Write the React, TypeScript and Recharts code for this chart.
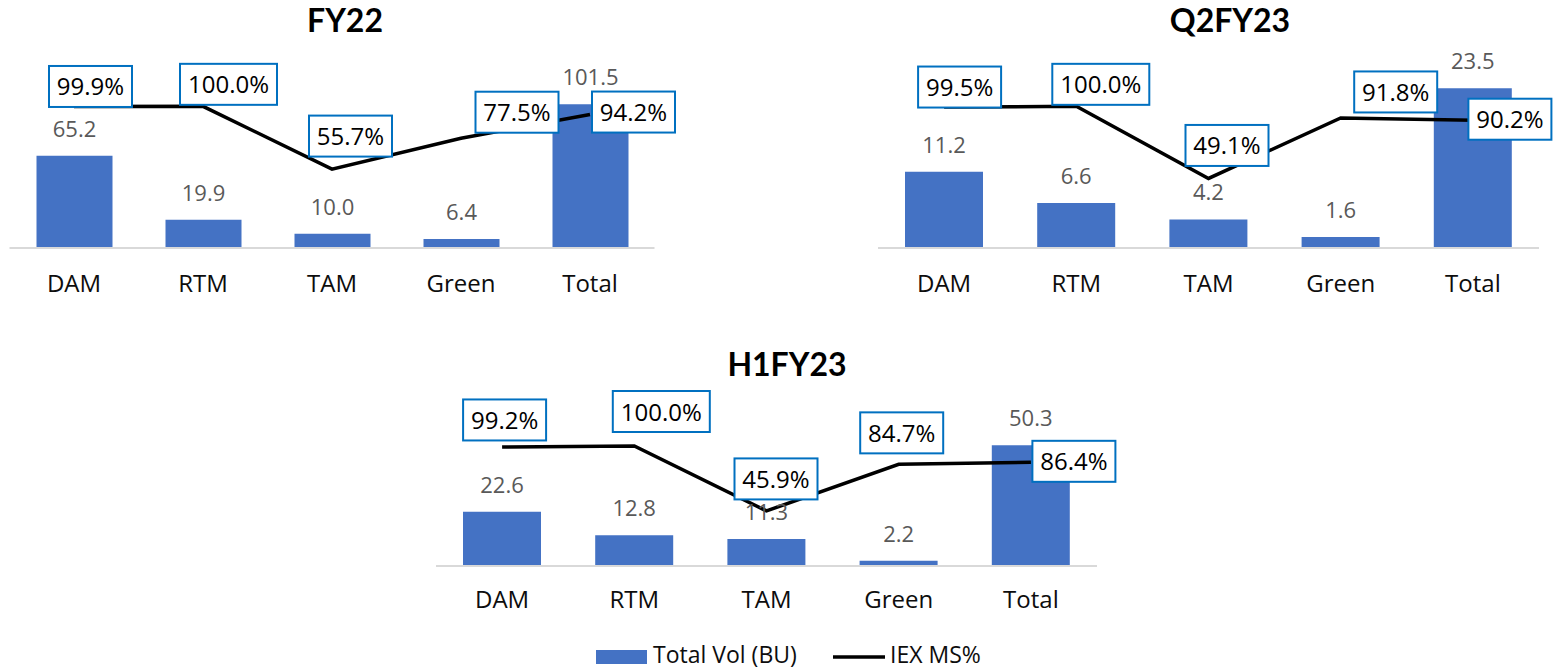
import React from 'react';
import { ComposedChart, Bar, Line, XAxis, YAxis, LabelList } from 'recharts';

const categories = ['DAM', 'RTM', 'TAM', 'Green', 'Total'];

const fy22Vol = [65.2, 19.9, 10.0, 6.4, 101.5];
const fy22Share = [99.9, 100.0, 55.7, 77.5, 94.2];

const q2fy23Vol = [11.2, 6.6, 4.2, 1.6, 23.5];
const q2fy23Share = [99.5, 100.0, 49.1, 91.8, 90.2];

const h1fy23Vol = [22.6, 12.8, 11.3, 2.2, 50.3];
const h1fy23Share = [99.2, 100.0, 45.9, 84.7, 86.4];

const legendItems = ['Total Vol (BU)', 'IEX MS%'];

// where each % box sits relative to its point (layout only)
const fy22BoxShift = [[16.5, -20], [25.5, -22], [18.5, -33], [56, -26], [43.5, -2.5]];
const q2BoxShift = [[15.5, -20], [24.5, -22], [18.5, -33], [55, -26], [37, -1]];
const h1BoxShift = [[2.5, -27], [27, -34.5], [9.5, -32], [3, -31.5], [43, -1]];

const BAR = '#4472C4';

const makeBoxLabel = (shifts: number[][]) => (props: any) => {
  const vb = props.viewBox || {};
  const px = (vb.x ?? props.x) + (vb.width || 0) / 2;
  const py = vb.y ?? props.y;
  const [dx, dy] = shifts[props.index] || [0, 0];
  const text = `${Number(props.value).toFixed(1)}%`;
  const w = text.length * 14 + 13;
  const h = 41;
  const cx = px + dx;
  const cy = py + dy;
  return (
    <g>
      <rect x={cx - w / 2} y={cy - h / 2} width={w} height={h} fill="#fff" stroke="#0070C0" strokeWidth={2} />
      <text x={cx} y={cy + 9} textAnchor="middle" fontSize={24} fill="#000">
        {text}
      </text>
    </g>
  );
};

interface PanelProps {
  vol: number[];
  share: number[];
  shifts: number[][];
  left: number;
  top: number;
  width: number;
  height: number;
  margin: { top: number; right: number; bottom: number; left: number };
  volMax: number;
  barSize: number;
  tickMargin: number;
}

const Panel: React.FC<PanelProps> = ({ vol, share, shifts, left, top, width, height, margin, volMax, barSize, tickMargin }) => {
  const data = categories.map((c, i) => ({ name: c, vol: vol[i], share: share[i] }));
  return (
    <div style={{ position: 'absolute', left, top }}>
      <ComposedChart width={width} height={height} data={data} margin={margin}>
        <XAxis
          dataKey="name"
          height={40}
          axisLine={{ stroke: '#d9d9d9', strokeWidth: 2 }}
          tickLine={false}
          tickMargin={tickMargin}
          tick={{ fill: '#0d0d0d', fontSize: 24 }}
          interval={0}
        />
        <YAxis yAxisId="vol" hide domain={[0, volMax]} />
        <YAxis yAxisId="ms" hide orientation="right" domain={[0, 120]} />
        <Bar yAxisId="vol" dataKey="vol" fill={BAR} barSize={barSize} isAnimationActive={false}>
          <LabelList
            dataKey="vol"
            position="top"
            offset={19}
            fill="#595959"
            fontSize={22}
            formatter={(v: any) => Number(v).toFixed(1)}
          />
        </Bar>
        <Line
          yAxisId="ms"
          dataKey="share"
          type="linear"
          stroke="#000"
          strokeWidth={3.5}
          dot={false}
          isAnimationActive={false}
        >
          <LabelList dataKey="share" content={makeBoxLabel(shifts)} />
        </Line>
      </ComposedChart>
    </div>
  );
};

export default function App() {
  return (
    <div
      style={{
        position: 'absolute',
        left: 0,
        top: 0,
        width: 1553,
        height: 670,
        background: '#fff',
        fontFamily: '"Open Sans", sans-serif',
        overflow: 'hidden',
      }}
    >
      <svg width={1553} height={670} style={{ position: 'absolute', left: 0, top: 0 }}>
        <g fontFamily="Lato, sans-serif" fontWeight={700} fontSize={32} fill="#000" textAnchor="middle">
          <text x={345} y={32}>FY22</text>
          <text x={1230} y={32}>Q2FY23</text>
          <text x={787} y={376}>H1FY23</text>
        </g>
        <rect x={596} y={650} width={51} height={14} fill={BAR} />
        <text x={653} y={663} fontSize={23} fill="#0d0d0d">{legendItems[0]}</text>
        <line x1={833} y1={657} x2={885} y2={657} stroke="#000" strokeWidth={3.5} />
        <text x={890} y={663} fontSize={23} fill="#0d0d0d">{legendItems[1]}</text>
      </svg>

      <Panel
        vol={fy22Vol}
        share={fy22Share}
        shifts={fy22BoxShift}
        left={0}
        top={0}
        width={680}
        height={300}
        margin={{ top: 78, right: 25.5, bottom: 12, left: 9.5 }}
        volMax={120}
        barSize={76}
        tickMargin={21}
      />
      <Panel
        vol={q2fy23Vol}
        share={q2fy23Share}
        shifts={q2BoxShift}
        left={870}
        top={0}
        width={683}
        height={300}
        margin={{ top: 78, right: 14, bottom: 12, left: 8 }}
        volMax={25}
        barSize={78}
        tickMargin={21}
      />
      <Panel
        vol={h1fy23Vol}
        share={h1fy23Share}
        shifts={h1BoxShift}
        left={420}
        top={380}
        width={700}
        height={290}
        margin={{ top: 42, right: 23, bottom: 64, left: 16 }}
        volMax={60}
        barSize={78}
        tickMargin={19}
      />
    </div>
  );
}
